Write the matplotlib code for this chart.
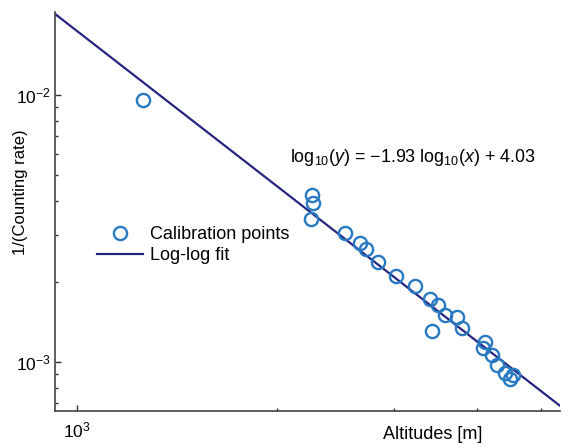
import numpy as np
import matplotlib
matplotlib.use("Agg")
import matplotlib.pyplot as plt
from matplotlib.ticker import LogLocator, NullFormatter

plt.rcParams['font.family'] = ['Liberation Sans', 'DejaVu Sans']
plt.rcParams['mathtext.fontset'] = 'custom'
plt.rcParams['mathtext.rm'] = 'Liberation Sans'
plt.rcParams['mathtext.it'] = 'Liberation Sans:italic'

# ---- calibration points ----
altitude = [1257, 2257, 2265, 2249, 2533, 2668, 2724, 2843, 3028, 3228,
            3401, 3500, 3583, 3731, 3797, 3421, 4117, 4092, 4213, 4287,
            4412, 4489, 4541]
inv_rate = [0.00957, 0.004222, 0.003931, 0.003423, 0.003034, 0.002784,
            0.002643, 0.002375, 0.0021, 0.001927, 0.001717, 0.001635,
            0.0015, 0.001478, 0.001337, 0.00131, 0.001191, 0.001125,
            0.001062, 0.000975, 0.000907, 0.000861, 0.000894]

# fit: log10(y) = slope*log10(x) + intercept
slope = -1.93
intercept = 4.03

xlim = (926.6, 5339)
ylim = (6.555e-4, 0.02047)

fig = plt.figure(figsize=(5.62, 4.47), dpi=100)
ax = fig.add_axes([55 / 562, 36 / 447, 505 / 562, 399 / 447])

xfit = np.logspace(np.log10(xlim[0]), np.log10(xlim[1]), 50)
yfit = 10 ** (slope * np.log10(xfit) + intercept)

ax.plot(altitude, inv_rate, 'o', mfc='none', mec='#2779c2', mew=1.7,
        ms=9.5, label='Calibration points', zorder=3)
ax.plot(xfit, yfit, color='#262682', lw=1.6, label='Log-log fit', zorder=2)

ax.set_xscale('log')
ax.set_yscale('log')
ax.set_xlim(xlim)
ax.set_ylim(ylim)

ax.xaxis.set_major_locator(LogLocator(base=10))
ax.xaxis.set_minor_locator(LogLocator(base=10, subs=np.arange(2, 10)))
ax.xaxis.set_minor_formatter(NullFormatter())
ax.yaxis.set_minor_formatter(NullFormatter())

for side in ['top', 'right']:
    ax.spines[side].set_visible(False)
for side in ['left', 'bottom']:
    ax.spines[side].set_color('#444444')
    ax.spines[side].set_linewidth(1.2)

ax.tick_params(which='both', direction='in', color='#333333', labelsize=12.5)
ax.tick_params(which='major', length=4, width=1)
ax.tick_params(which='minor', length=2.5, width=1)
ax.tick_params(axis='x', pad=7)
ax.tick_params(axis='y', pad=3)

ax.set_xlabel('Altitudes [m]', fontsize=13)
ax.xaxis.set_label_coords(0.7485, -0.058)
ax.xaxis.label.set_va('center')
ax.set_ylabel('1/(Counting rate)', fontsize=12)
ax.yaxis.set_label_coords(-0.068, 0.549)
ax.yaxis.label.set_va('center')

ax.text(290 / 562, 1 - 158 / 447,
        r'log$_{10}$($\mathit{y}$) = $-$1.93 log$_{10}$($\mathit{x}$) + 4.03',
        transform=fig.transFigure, fontsize=12.9, va='center', ha='left')

ax.legend(loc='upper left', bbox_to_anchor=(0.083, 0.4625), frameon=False,
          borderpad=0, handlelength=2.55, handletextpad=0.4,
          labelspacing=0.2, fontsize=13, borderaxespad=0)

fig.savefig('out.png', dpi=100)
